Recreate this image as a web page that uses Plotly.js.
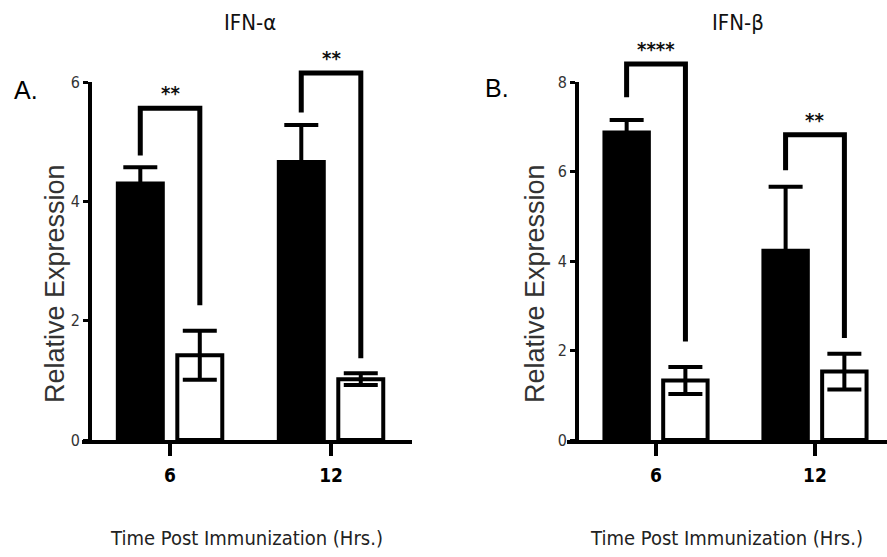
<!DOCTYPE html>
<html>
<head>
<meta charset="utf-8">
<script src="https://cdn.plot.ly/plotly-3.0.1.min.js"></script>
<style>html,body{margin:0;padding:0;background:#fff;}#chart{width:887px;height:557px;}</style>
</head>
<body>
<div id="chart"></div>
<script>
// ---- data ----
var categories = ["6", "12"];
var ifnA_filled = [4.30, 4.66];
var ifnA_filled_err = [0.27, 0.62];
var ifnA_open = [1.42, 1.02];
var ifnA_open_err = [0.41, 0.10];
var ifnB_filled = [6.87, 4.23];
var ifnB_filled_err = [0.28, 1.43];
var ifnB_open = [1.33, 1.53];
var ifnB_open_err = [0.30, 0.40];
// significance brackets: [top, left leg end, right leg end]
var bracketsA = [[5.56, 4.77, 2.26], [6.15, 5.49, 1.37]];
var bracketsB = [[8.40, 7.66, 2.20], [6.82, 6.03, 2.28]];
var starsA = ["**", "**"];
var starsB = ["****", "**"];
var yTicksA = [0, 2, 4, 6];
var yTicksB = [0, 2, 4, 6, 8];
var yMaxA = 6, yMaxB = 8;

var W = 887, H = 557;
var NARROW = "Liberation Sans Narrow, DejaVu Sans Condensed, Arial Narrow, sans-serif";
var SANS = "Liberation Sans, Arial, sans-serif";
var idx = categories.map(function (c, i) { return i; });
var off = 0.185;
var yTopPx = 82, yZeroPx = 440;

function bars(vals, errs, filled, xa, ya, name) {
  return {
    type: "bar", x: idx, y: vals, xaxis: xa, yaxis: ya, name: name, showlegend: false,
    marker: { color: filled ? "#000" : "#fff", line: { color: "#000", width: 4 } },
    error_y: { type: "data", array: errs, visible: true, color: "#000", thickness: 4, width: 17 }
  };
}
function bracketTraces(br, xa, ya) {
  return br.map(function (b, i) {
    return {
      type: "scatter", mode: "lines", xaxis: xa, yaxis: ya, showlegend: false, cliponaxis: false,
      x: [i - off, i - off, i + off, i + off], y: [b[1], b[0], b[0], b[2]],
      line: { color: "#000", width: 5 }, hoverinfo: "skip"
    };
  });
}

var traces = [
  bars(ifnA_filled, ifnA_filled_err, true, "x", "y", "IFN-α filled"),
  bars(ifnA_open, ifnA_open_err, false, "x", "y", "IFN-α open"),
  bars(ifnB_filled, ifnB_filled_err, true, "x2", "y2", "IFN-β filled"),
  bars(ifnB_open, ifnB_open_err, false, "x2", "y2", "IFN-β open")
].concat(bracketTraces(bracketsA, "x", "y3")).concat(bracketTraces(bracketsB, "x2", "y4"));

var yDom = [1 - yZeroPx / H, 1 - yTopPx / H];
function xaxis(dom, rng, anchor) {
  return {
    domain: dom, range: rng, anchor: anchor, tickmode: "array", tickvals: idx, ticktext: categories,
    showline: true, linecolor: "#000", linewidth: 4, ticks: "outside", ticklen: 12, tickwidth: 4, tickcolor: "#000",
    showgrid: false, zeroline: false, ticklabelstandoff: 3,
    tickfont: { family: NARROW, size: 19, color: "#000", weight: "bold" },
    title: { text: "Time Post Immunization (Hrs.)", font: { family: NARROW, size: 20, color: "#222" }, standoff: 47 }
  };
}
function yaxis(rng, ticks, pos) {
  return {
    domain: yDom, range: rng, anchor: "free", position: pos, tickvals: ticks,
    showline: true, linecolor: "#000", linewidth: 4, ticks: "outside", ticklen: 5, tickwidth: 3, tickcolor: "#000",
    showgrid: false, zeroline: false, ticklabelstandoff: 0,
    tickfont: { family: NARROW, size: 16, color: "#333" }
  };
}
// invisible overlay axes with the same scale, extended to the top so brackets are not clipped
function yOver(ymax) {
  return { domain: [yDom[0], 1], range: [0, ymax * yZeroPx / (yZeroPx - yTopPx)], anchor: "free", position: 0, visible: false, showgrid: false, zeroline: false };
}

var annotations = [
  { text: "IFN-α", xref: "paper", yref: "paper", x: 250 / W, y: 1 - 23 / H, xanchor: "center", yanchor: "middle", showarrow: false, font: { family: NARROW, size: 22, color: "#111" } },
  { text: "IFN-β", xref: "paper", yref: "paper", x: 738 / W, y: 1 - 23 / H, xanchor: "center", yanchor: "middle", showarrow: false, font: { family: NARROW, size: 22, color: "#111" } },
  { text: "A.", xref: "paper", yref: "paper", x: 26 / W, y: 1 - 90 / H, xanchor: "center", yanchor: "middle", showarrow: false, font: { family: SANS, size: 25, color: "#000" } },
  { text: "B.", xref: "paper", yref: "paper", x: 497 / W, y: 1 - 88 / H, xanchor: "center", yanchor: "middle", showarrow: false, font: { family: SANS, size: 25, color: "#000" } },
  { text: "Relative Expression", xref: "paper", yref: "paper", x: 55 / W, y: 1 - 284 / H, xanchor: "center", yanchor: "middle", textangle: -90, showarrow: false, font: { family: SANS, size: 27, color: "#333" } },
  { text: "Relative Expression", xref: "paper", yref: "paper", x: 535 / W, y: 1 - 284 / H, xanchor: "center", yanchor: "middle", textangle: -90, showarrow: false, font: { family: SANS, size: 27, color: "#333" } }
];
function starAnn(br, stars, xr, yr) {
  return br.map(function (b, i) {
    return { text: stars[i], xref: xr, yref: yr, x: i, y: b[0], yanchor: "bottom", yshift: 1, showarrow: false,
      font: { family: NARROW, size: 20, color: "#111", weight: "bold" } };
  });
}
annotations = annotations.concat(starAnn(bracketsA, starsA, "x", "y3")).concat(starAnn(bracketsB, starsB, "x2", "y4"));

var layout = {
  width: W, height: H, margin: { l: 0, r: 0, t: 0, b: 0 },
  paper_bgcolor: "#fff", plot_bgcolor: "rgba(0,0,0,0)",
  barmode: "group", bargap: 0.261, bargroupgap: 0.244,
  xaxis: xaxis([82 / W, 412 / W], [-0.547, 1.503], "y"),
  yaxis: yaxis([0, yMaxA], yTicksA, 90 / W),
  xaxis2: xaxis([567 / W, 1], [-0.56, 1.453], "y2"),
  yaxis2: yaxis([0, yMaxB], yTicksB, 577 / W),
  yaxis3: yOver(yMaxA),
  yaxis4: yOver(yMaxB),
  annotations: annotations
};
Plotly.newPlot("chart", traces, layout, { staticPlot: true, displayModeBar: false });
</script>
</body>
</html>
